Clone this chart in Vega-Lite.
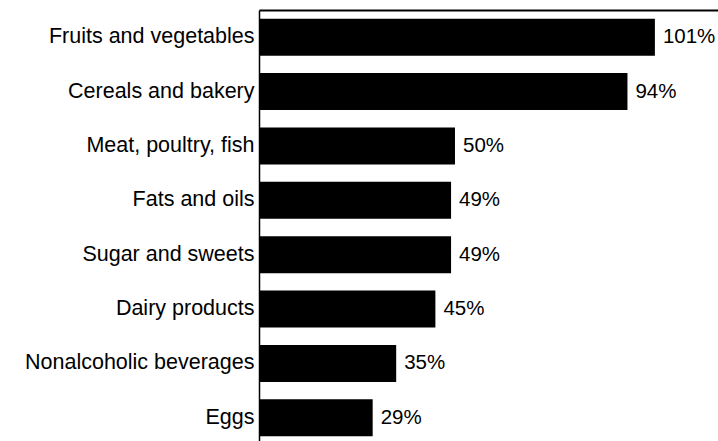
{
  "$schema": "https://vega.github.io/schema/vega-lite/v6.json",
  "autosize": {"type": "none"},
  "padding": {"left": 259, "top": 10, "right": 0, "bottom": 0},
  "width": 459,
  "height": 435,
  "background": "white",
  "config": {"view": {"stroke": null}, "font": "Liberation Sans"},
  "data": {
    "values": [
      {"category": "Fruits and vegetables", "pct": 101},
      {"category": "Cereals and bakery", "pct": 94},
      {"category": "Meat, poultry, fish", "pct": 50},
      {"category": "Fats and oils", "pct": 49},
      {"category": "Sugar and sweets", "pct": 49},
      {"category": "Dairy products", "pct": 45},
      {"category": "Nonalcoholic beverages", "pct": 35},
      {"category": "Eggs", "pct": 29}
    ]
  },
  "transform": [{"calculate": "datum.pct + '%'", "as": "label"}],
  "encoding": {
    "y": {
      "field": "category", "type": "nominal", "sort": null,
      "scale": {"paddingInner": 0.32, "paddingOuter": 0.16},
      "axis": {"title": null, "ticks": false, "domainColor": "black", "domainWidth": 1.5, "labelFont": "Liberation Sans", "labelFontSize": 21.5, "labelColor": "black", "labelPadding": 5, "labelLimit": 400}
    },
    "x": {
      "field": "pct", "type": "quantitative",
      "scale": {"domain": [0, 117.1], "nice": false, "zero": true},
      "axis": {"orient": "top", "title": null, "ticks": false, "labels": false, "grid": false, "domainColor": "black", "domainWidth": 2}
    }
  },
  "layer": [
    {"mark": {"type": "bar", "color": "black"}},
    {
      "mark": {"type": "text", "align": "left", "baseline": "middle", "dx": 8, "font": "Liberation Sans", "fontSize": 20.5, "color": "black"},
      "encoding": {"text": {"field": "label", "type": "nominal"}}
    }
  ]
}
